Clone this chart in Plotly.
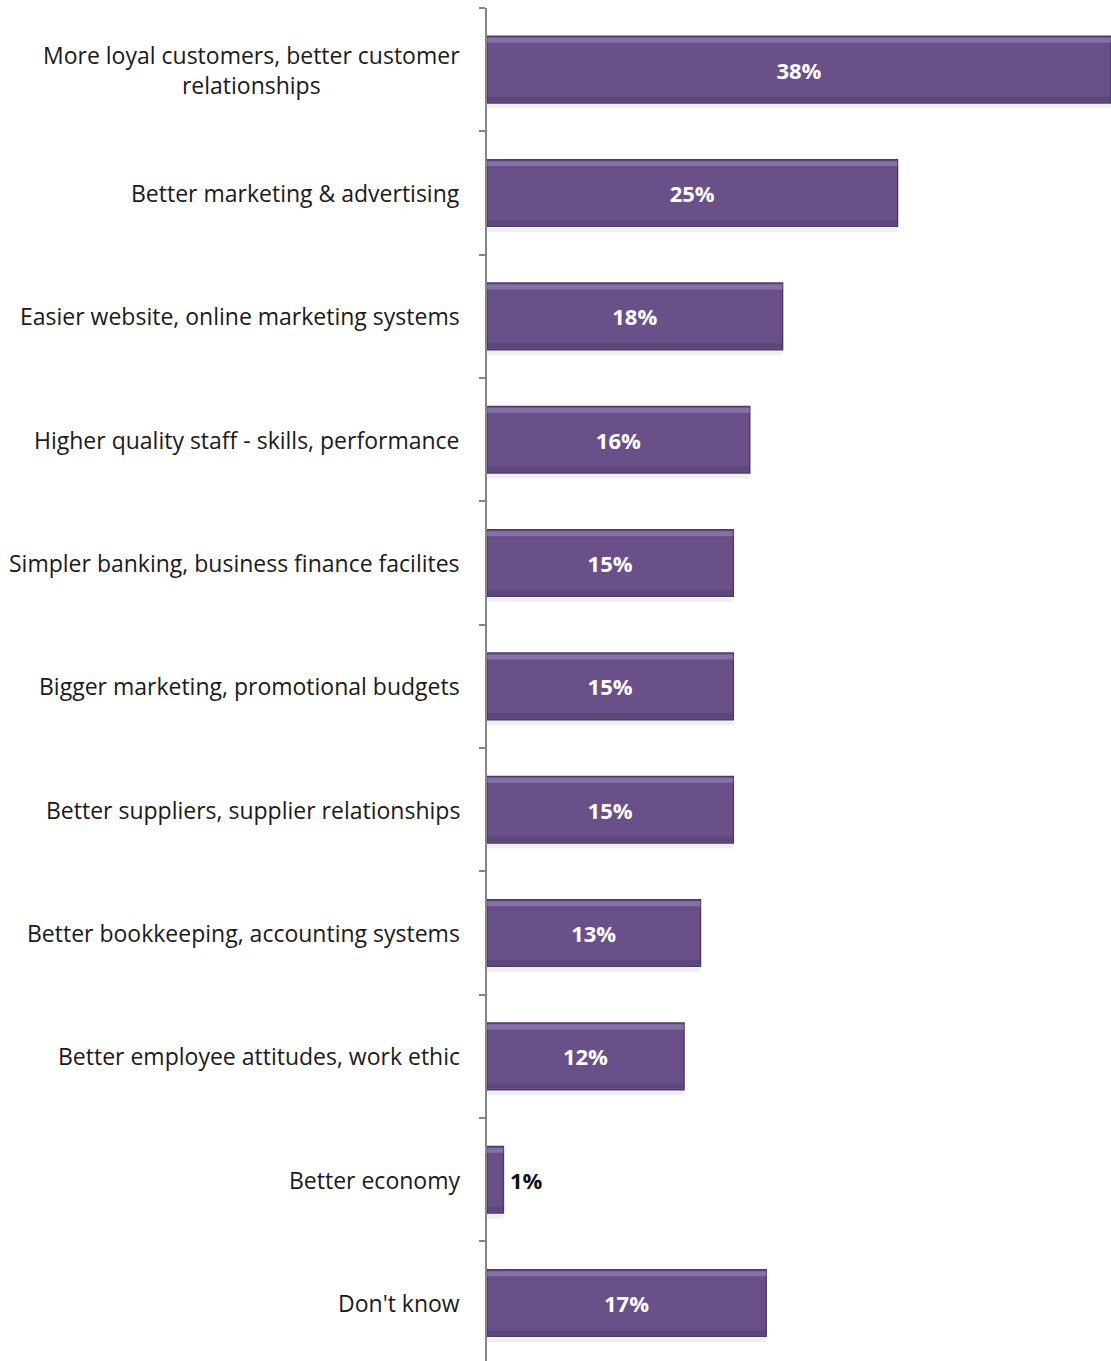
import plotly.graph_objects as go

# Survey responses: what would most improve the business
categories = [
    "More loyal customers, better customer<br>relationships",
    "Better marketing & advertising",
    "Easier website, online marketing systems",
    "Higher quality staff - skills, performance",
    "Simpler banking, business finance facilites",
    "Bigger marketing, promotional budgets",
    "Better suppliers, supplier relationships",
    "Better bookkeeping, accounting systems",
    "Better employee attitudes, work ethic",
    "Better economy",
    "Don't know",
]
values = [38, 25, 18, 16, 15, 15, 15, 13, 12, 1, 17]
value_labels = [f"{v}%" for v in values]

FONT = "Open Sans"
BAR_FILL = "#6a5089"
BAR_EDGE = "#4d3c68"
BAR_W = 0.54

# values too small to hold their label get it outside, in dark text
inside = [v >= 3 for v in values]
inside_text = [t if ok else "" for t, ok in zip(value_labels, inside)]

fig = go.Figure()

# soft drop shadow under each bar
fig.add_trace(go.Bar(
    x=values, y=categories, orientation="h",
    width=0.045, offset=BAR_W / 2,
    marker=dict(color="rgba(120,120,130,0.12)", line=dict(width=0)),
    hoverinfo="skip",
))

# main bars
fig.add_trace(go.Bar(
    x=values, y=categories, orientation="h",
    width=BAR_W, offset=-BAR_W / 2,
    marker=dict(color=BAR_FILL, line=dict(color=BAR_EDGE, width=1.5)),
    text=inside_text,
    textposition="inside",
    insidetextanchor="middle",
    textfont=dict(family=FONT, size=22, color="#ffffff", weight="bold"),
    hoverinfo="skip",
))

# bevel: light top band and darker bottom band
fig.add_trace(go.Bar(
    x=values, y=categories, orientation="h",
    width=0.04, offset=-BAR_W / 2 + 0.012,
    marker=dict(color="rgba(170,150,205,0.45)", line=dict(width=0)),
    hoverinfo="skip",
))
fig.add_trace(go.Bar(
    x=values, y=categories, orientation="h",
    width=0.04, offset=BAR_W / 2 - 0.052,
    marker=dict(color="rgba(60,45,85,0.28)", line=dict(width=0)),
    hoverinfo="skip",
))

# outside labels for small bars
for cat, v, lab, ok in zip(categories, values, value_labels, inside):
    if not ok:
        fig.add_annotation(
            x=v, y=cat, xref="x", yref="y",
            text=f"<b>{lab}</b>", showarrow=False,
            xanchor="left", yanchor="middle", xshift=5,
            font=dict(family=FONT, size=22, color="#111111"),
        )

# category labels as annotations so wrapped lines stay centred
for cat in categories:
    fig.add_annotation(
        x=0, y=cat, xref="paper", yref="y",
        text=cat, showarrow=False,
        xanchor="right", yanchor="middle", align="center",
        xshift=-25,
        font=dict(family=FONT, size=23, color="#1a1a1a"),
    )

fig.update_layout(
    width=1111,
    height=1361,
    margin=dict(l=487, r=0, t=8, b=0),
    paper_bgcolor="white",
    plot_bgcolor="white",
    barmode="overlay",
    showlegend=False,
)
fig.update_xaxes(range=[0, 38], visible=False, fixedrange=True)
fig.update_yaxes(
    categoryorder="array",
    categoryarray=categories,
    range=[10.47, -0.5],
    showticklabels=False,
    showline=True,
    linecolor="#858585",
    linewidth=2,
    ticks="outside",
    ticklen=6,
    tickcolor="#858585",
    tickwidth=1.5,
    tickson="boundaries",
    showgrid=False,
    zeroline=False,
)

fig.write_html("out.html")
